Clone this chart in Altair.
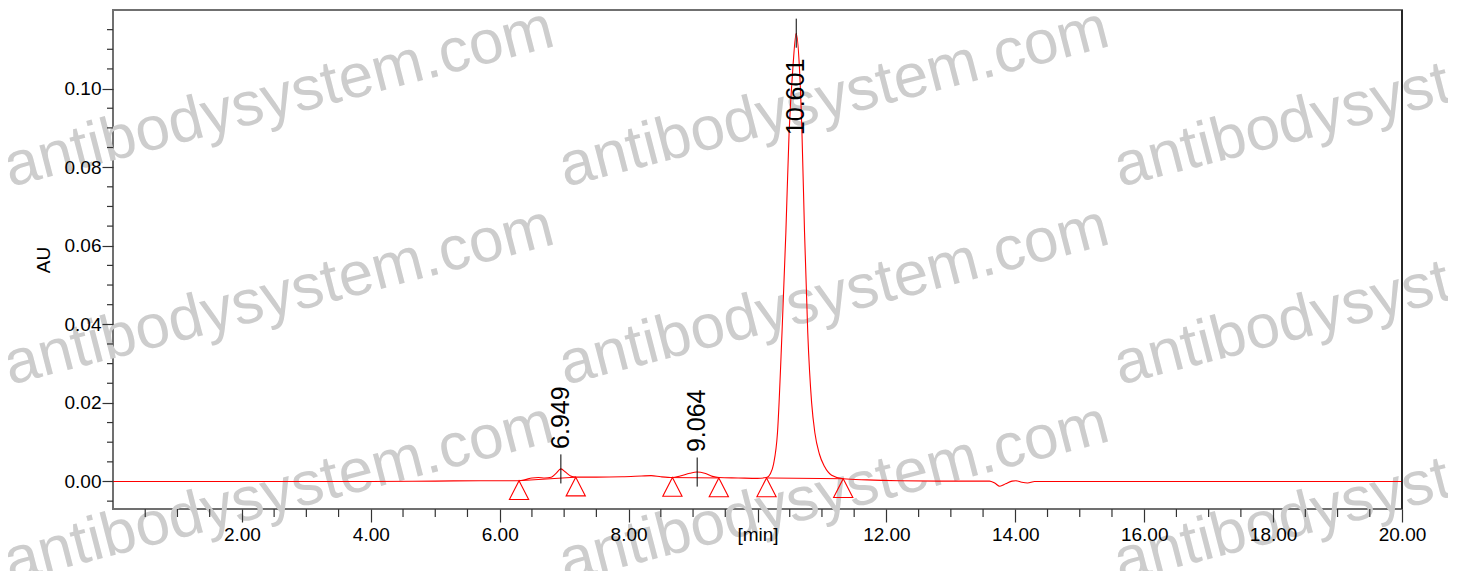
import altair as alt
import pandas as pd

# ---- chromatogram trace (retention time [min], absorbance AU) ----
trace_t = [0.00, 1.00, 2.00, 3.00, 4.00, 5.00, 5.70, 6.30, 6.40, 6.50, 6.60, 6.70,
           6.80, 6.87, 6.95, 7.02, 7.10, 7.18, 7.50, 7.90, 8.20, 8.35, 8.50, 8.68,
           8.80, 8.95, 9.06, 9.18, 9.30, 9.40, 9.70, 10.00, 10.14, 10.20, 10.25,
           10.31, 10.38, 10.44, 10.49, 10.55, 10.60, 10.65, 10.69, 10.73, 10.78,
           10.84, 10.89, 10.96, 11.04, 11.15, 11.33, 11.70, 12.20, 13.00, 13.60,
           13.68, 13.76, 13.85, 13.95, 14.01, 14.10, 14.19, 14.30, 15.00, 20.00]
trace_au = [0.0000, 0.0000, 0.0000, 0.0000, 0.0000, 0.0001, 0.0002, 0.0002, 0.0005,
            0.0009, 0.0010, 0.0009, 0.0011, 0.0020, 0.0032, 0.0024, 0.0014, 0.0011,
            0.0011, 0.0012, 0.0014, 0.0015, 0.0012, 0.0010, 0.0014, 0.0021, 0.0024,
            0.0021, 0.0013, 0.0010, 0.0009, 0.0008, 0.0010, 0.0020, 0.0045, 0.0124,
            0.0378, 0.0633, 0.0887, 0.1055, 0.1141, 0.1055, 0.0887, 0.0633, 0.0378,
            0.0200, 0.0124, 0.0070, 0.0038, 0.0016, 0.0007, 0.0004, 0.0002, 0.0001,
            0.0001, -0.0004, -0.0012, -0.0006, 0.0001, 0.0002, -0.0002, -0.0004,
            0.0000, 0.0000, 0.0000]

# ---- labelled peaks ----
peak_rt = [6.949, 9.064, 10.601]
peak_au = [0.0032, 0.0024, 0.1141]
peak_lbl = ["6.949", "9.064", "10.601"]

# ---- integration start/end markers and baselines ----
mark_t = [6.30, 7.18, 8.68, 9.40, 10.14, 11.33]
mark_au = [0.0002, 0.0011, 0.0010, 0.0009, 0.0009, 0.0007]
mark_pair = [1, 1, 2, 2, 3, 3]

# ---- axis ticks ----
x_major = [2, 4, 6, 8, 10, 12, 14, 16, 18, 20]
x_major_lbl = ["2.00", "4.00", "6.00", "8.00", "[min]", "12.00", "14.00", "16.00", "18.00", "20.00"]
y_major = [0.0, 0.02, 0.04, 0.06, 0.08, 0.10]
x_minor = [i * 0.5 for i in range(1, 40) if i % 4 != 0]
y_minor = [round(i * 0.005, 3) for i in range(-1, 24) if i % 4 != 0]

# ---- watermark ----
wm_text = "antibodysystem.com"
wm_col = [-103, 452, 1007]
wm_row = [177, 375, 572]

W, H = 1289, 499
FONT = "Liberation Sans"
RED = "#ff0000"

xs = alt.Scale(domain=[0, 20], nice=False, zero=False)
ys = alt.Scale(domain=[-0.007, 0.12], nice=False, zero=False)

label_map = "{" + ",".join(f"'{v}':'{l}'" for v, l in zip(x_major, x_major_lbl)) + "}"

trace_df = pd.DataFrame({"t": trace_t, "au": trace_au})
peak_df = pd.DataFrame({"t": peak_rt, "au": peak_au, "lbl": peak_lbl})
peak_df["lo"] = peak_df["au"] - 0.0037
peak_df["hi"] = peak_df["au"] + 0.0037
mark_df = pd.DataFrame({"t": mark_t, "au": mark_au, "pair": mark_pair})
xmin_df = pd.DataFrame({"t": x_minor})
ymin_df = pd.DataFrame({"au": y_minor})
wm_df = pd.DataFrame([{"wx": c, "wy": r, "txt": wm_text} for r in wm_row for c in wm_col])

watermark = alt.Chart(wm_df).mark_text(
    font=FONT, fontSize=62, color="#cdcdcd", align="left", baseline="alphabetic",
    angle=345.5
).encode(
    x=alt.X("wx:Q", scale=None, axis=None),
    y=alt.Y("wy:Q", scale=None, axis=None),
    text="txt:N",
)

trace = alt.Chart(trace_df).mark_line(color=RED, strokeWidth=1.1, interpolate="monotone").encode(
    x=alt.X("t:Q", scale=xs, axis=alt.Axis(
        values=x_major, labelExpr=label_map + "[datum.value]", title=None,
        domain=False, grid=False, tickSize=13, tickColor="#333333", tickWidth=1.2,
        labelPadding=3, labelFontSize=19, labelFont=FONT, labelColor="#000000",
        labelFlush=False, labelOverlap=False, zindex=1)),
    y=alt.Y("au:Q", scale=ys, axis=alt.Axis(
        values=y_major, format=".2f", title="AU", titleFont=FONT, titleFontSize=19,
        titleFontWeight="normal", titleColor="#000000", titleAngle=270,
        titleX=-70, titleY=H / 2, titleAlign="center", titleBaseline="middle",
        domain=False, grid=False, tickSize=11, tickColor="#333333", tickWidth=1.2,
        labelPadding=1, labelFontSize=19, labelFont=FONT, labelColor="#000000",
        labelFlush=False, labelOverlap=False, zindex=1)),
)

x_minor_ticks = alt.Chart(xmin_df).mark_rule(color="#333333", strokeWidth=1.2).encode(
    x=alt.X("t:Q", scale=xs), y=alt.value(H), y2=alt.value(H + 8))
y_minor_ticks = alt.Chart(ymin_df).mark_rule(color="#333333", strokeWidth=1.2).encode(
    y=alt.Y("au:Q", scale=ys), x=alt.value(-6), x2=alt.value(0))

baselines = alt.Chart(mark_df).mark_line(color=RED, strokeWidth=1).encode(
    x=alt.X("t:Q", scale=xs), y=alt.Y("au:Q", scale=ys), detail="pair:N")

markers = alt.Chart(mark_df).mark_point(
    shape="M0,-1L1,0.95L-1,0.95Z", size=370, filled=False, color=RED,
    strokeWidth=1.1, yOffset=9.6, opacity=1
).encode(x=alt.X("t:Q", scale=xs), y=alt.Y("au:Q", scale=ys))

peak_lines = alt.Chart(peak_df).mark_rule(color="#000000", strokeWidth=1).encode(
    x=alt.X("t:Q", scale=xs), y=alt.Y("lo:Q", scale=ys), y2="hi:Q")

small_labels = alt.Chart(peak_df).transform_filter("datum.au < 0.05").mark_text(
    font=FONT, fontSize=25, color="#000000", angle=270, align="left",
    baseline="middle", dx=20
).encode(x=alt.X("t:Q", scale=xs), y=alt.Y("au:Q", scale=ys), text="lbl:N")

main_label = alt.Chart(peak_df).transform_filter("datum.au >= 0.05").mark_text(
    font=FONT, fontSize=25, color="#000000", angle=270, align="left",
    baseline="middle", dx=-102
).encode(x=alt.X("t:Q", scale=xs), y=alt.Y("au:Q", scale=ys), text="lbl:N")

right_border = alt.Chart(pd.DataFrame({"a": [0]})).mark_rule(color="#000000", strokeWidth=1.3).encode(
    x=alt.value(W), y=alt.value(0), y2=alt.value(H))

chart = alt.layer(
    watermark, x_minor_ticks, y_minor_ticks, trace, baselines, markers,
    peak_lines, small_labels, main_label, right_border
).properties(
    width=W, height=H,
    autosize=alt.AutoSizeParams(type="none"),
    padding={"left": 105, "top": 2, "right": 46, "bottom": 62},
    background="#ffffff",
).configure_view(stroke="#707070", strokeWidth=2)

chart.save("out.html", embed_options={"renderer": "svg", "actions": False})
